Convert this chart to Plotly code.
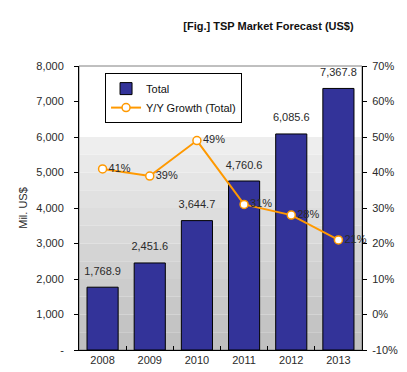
import plotly.graph_objects as go

years = ["2008", "2009", "2010", "2011", "2012", "2013"]
total = [1768.9, 2451.6, 3644.7, 4760.6, 6085.6, 7367.8]
growth = [41, 39, 49, 31, 28, 21]

left_ticks = [0, 1000, 2000, 3000, 4000, 5000, 6000, 7000, 8000]
left_text = ["-", "1,000", "2,000", "3,000", "4,000", "5,000", "6,000", "7,000", "8,000"]
right_ticks = [-10, 0, 10, 20, 30, 40, 50, 60, 70]
right_text = [f"{v}%" for v in right_ticks]

FONT = "Liberation Sans, Arial, sans-serif"
TXT = "#2a2a2a"

fig = go.Figure()

fig.add_trace(go.Bar(
    x=years, y=total, name="Total",
    marker=dict(color="#333399", line=dict(color="#000000", width=1)),
    width=0.66,
))

# bar value labels (text trace sitting on top of each bar)
fig.add_trace(go.Scatter(
    x=years, y=total, mode="markers+text", showlegend=False, hoverinfo="skip",
    marker=dict(size=14, color="rgba(0,0,0,0)"),
    texttemplate="%{y:,.1f}", textposition="top center",
    textfont=dict(size=11, color=TXT, family=FONT),
    cliponaxis=False,
))

fig.add_trace(go.Scatter(
    x=years, y=growth, name="Y/Y Growth (Total)", yaxis="y2",
    mode="lines+markers+text",
    line=dict(color="#FF9900", width=2),
    marker=dict(symbol="circle", size=8, color="#FFFFFF", line=dict(color="#FF9900", width=1.5)),
    texttemplate="%{y}%", textposition="middle right",
    textfont=dict(size=11, color=TXT, family=FONT),
    cliponaxis=False,
))

# background gradient bands (white above 6,000, graying toward bottom)
shapes = []
nb = 12
for i in range(nb):
    y0 = 6000 * i / nb
    y1 = 6000 * (i + 1) / nb
    t = i / (nb - 1)
    c = int(192 + (238 - 192) * t)
    shapes.append(dict(type="rect", xref="paper", yref="y", x0=0, x1=1, y0=y0, y1=y1,
                       fillcolor=f"rgb({c},{c},{c})", line=dict(width=0), layer="below"))
shapes.append(dict(type="rect", xref="paper", yref="paper", x0=0, x1=1, y0=0, y1=1,
                   line=dict(color="#808080", width=1), fillcolor="rgba(0,0,0,0)", layer="below"))

fig.update_layout(
    width=407, height=372,
    margin=dict(l=71, r=53, t=58, b=30),
    paper_bgcolor="white", plot_bgcolor="white",
    font=dict(family=FONT, size=11, color=TXT),
    title=dict(text="<b>[Fig.] TSP Market Forecast (US$)</b>", x=0.64, xanchor="center",
               y=0.952, yanchor="middle", font=dict(size=11, color="#111111", family=FONT)),
    shapes=shapes,
    showlegend=True,
    legend=dict(x=0.092, y=0.975, xanchor="left", yanchor="top",
                bgcolor="white", bordercolor="#000000", borderwidth=1,
                font=dict(size=11, color="#111111", family=FONT),
                tracegroupgap=0, itemwidth=30),
    xaxis=dict(type="category", showline=True, linecolor="#000000", linewidth=1,
               ticks="inside", tickson="boundaries", ticklen=4, tickcolor="#000000",
               tickfont=dict(size=11, color=TXT), showgrid=False, automargin=False),
    yaxis=dict(range=[0, 8000], tickvals=left_ticks, ticktext=left_text,
               showline=True, linecolor="#000000", linewidth=1,
               ticks="outside", ticklen=4, tickcolor="#000000",
               ticklabelstandoff=8, automargin=False,
               showgrid=False, zeroline=False,
               title=dict(text="Mil. US$", font=dict(size=11), standoff=6),
               tickfont=dict(size=11, color=TXT)),
    yaxis2=dict(range=[-10, 70], tickvals=right_ticks, ticktext=right_text,
                overlaying="y", side="right",
                showline=True, linecolor="#000000", linewidth=1,
                ticks="outside", ticklen=4, tickcolor="#000000",
                ticklabelstandoff=3, automargin=False,
                showgrid=False, zeroline=False,
                tickfont=dict(size=11, color=TXT)),
    bargap=0.34,
)

fig.write_html("out.html")
